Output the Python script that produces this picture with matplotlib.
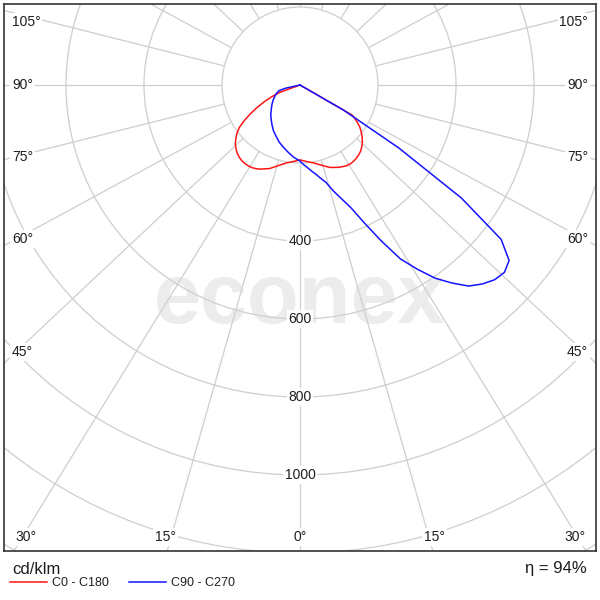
import numpy as np
import matplotlib
matplotlib.use("Agg")
import matplotlib.pyplot as plt
from matplotlib.patches import Circle

plt.rcParams['font.family'] = ['Liberation Sans', 'DejaVu Sans']

# ---------------- data (gamma in degrees, negative = left half) ----------------
c0_c180_gamma = [-90, -75, -70, -67.5, -65, -62.5, -60, -57.5, -55, -52.5, -50, -47.5, -45, -42.5,
                 -40, -37.5, -35, -32.5, -30, -27.5, -25, -20, -15, -10, -5,
                 0, 5, 10, 15, 20, 25, 27.5, 30, 32.5, 35, 37.5, 40, 42.5, 45, 47.5, 50, 52.5,
                 55, 57.5, 60, 65, 90]
c0_c180_cdklm = [0, 0, 55, 78, 100, 123, 146, 169, 190, 204, 215, 225, 232, 238,
                 242, 245, 246, 246, 245, 242, 238, 228, 214, 203, 197,
                 192, 197, 203, 213, 225, 233, 236, 239, 240, 239, 237, 234, 230, 224, 217, 208, 198,
                 187, 172, 155, 0, 0]

c90_c270_gamma = [-90, -80, -77.5, -75, -70, -65, -60, -55, -50, -45, -40, -35, -30, -25, -20, -15,
                  -10, -5, 0, 2.5, 5, 7.5, 10, 12.5, 15, 17.5, 20, 22.5, 25, 27.5, 30, 32.5, 35,
                  37.5, 40, 42.5, 45, 47.5, 50, 52.5, 55, 57.5, 60, 62.5, 90]
c90_c270_cdklm = [0, 0, 38, 55, 65, 72, 80, 88, 96, 106, 115, 125, 136, 145, 156, 165,
                  175, 186, 195, 204, 212, 222, 232, 245, 259, 285, 310, 340, 390, 450, 515, 560, 605,
                  640, 673, 692, 706, 711, 700, 650, 505, 300, 130, 0, 0]

series_labels = ["C0 - C180", "C90 - C270"]
series_colors = ["#ff1414", "#1414ff"]
grid_radii = [200, 400, 600, 800, 1000, 1200, 1400, 1600, 1800, 2000]
radial_ticks = [400, 600, 800, 1000]
ray_angles = list(range(0, 360, 15))
angle_ticks = [0, 15, 30, 45, 60, 75, 90, 105]
unit_label = "cd/klm"
efficiency_label = "η = 94%"
watermark = "econex"

# ---------------- layout ----------------
W = H = 600
px = 1 / 0.39            # cd/klm per pixel
cx, cy = 300, 85         # centre in pixels
left, right, top, bottom = 4, 596, 4, 551
ray_squash = 0.94
grid_col = "#d0d0d0"
txt_col = "#1e1e1e"

fig = plt.figure(figsize=(6, 6), dpi=100)
ax = fig.add_axes([left / W, 1 - bottom / H, (right - left) / W, (bottom - top) / H])
ax.set_xlim((left - cx) * px, (right - cx) * px)
ax.set_ylim(-(bottom - cy) * px, (cy - top) * px)
ax.set_xticks([])
ax.set_yticks([])
for s in ax.spines.values():
    s.set_color("#333333")
    s.set_linewidth(1.2)
    s.set_zorder(10)

# watermark
ax.text(0, -(323 - cy) * px, watermark, ha="center", va="baseline", fontsize=61,
        fontweight="bold", color="#ececec", zorder=0)

# grid circles
for r in grid_radii:
    ax.add_patch(Circle((0, 0), r, fill=False, edgecolor=grid_col, linewidth=0.95, zorder=1))

# rays
for a in ray_angles:
    t = np.radians(a)
    d = np.array([np.sin(t), -ray_squash * np.cos(t)])
    d = d / np.hypot(*d)
    ax.plot([200 * d[0], 4000 * d[0]], [200 * d[1], 4000 * d[1]],
            color=grid_col, linewidth=0.95, zorder=1, solid_capstyle="butt")

# curves
lines = []
for g, v, col, lab, z in [(c0_c180_gamma, c0_c180_cdklm, series_colors[0], series_labels[0], 3),
                          (c90_c270_gamma, c90_c270_cdklm, series_colors[1], series_labels[1], 4)]:
    g = np.radians(np.array(g, dtype=float))
    v = np.array(v, dtype=float)
    ln, = ax.plot(v * np.sin(g), -v * np.cos(g), color=col, linewidth=1.1, label=lab, zorder=z,
                  solid_joinstyle="round")
    lines.append(ln)

# radial labels
bbox = dict(boxstyle="square,pad=0.12", facecolor="white", edgecolor="none")
for r in radial_ticks:
    ax.text(0, -r, str(r), ha="center", va="center", fontsize=10, color=txt_col,
            bbox=bbox, zorder=6)

# angle labels
x_in_left = (left + 8 - cx) * px
x_in_right = (right - 8 - cx) * px
x_probe = (cx - left - 29) * px
y_top_max = (cy - top - 18) * px
y_bot = -(bottom - 14 - cy) * px
for a in angle_ticks:
    t = np.radians(a)
    if a <= 30:
        xr = -y_bot * np.tan(t)
        if a == 0:
            ax.text(0, y_bot, f"{a}°", ha="center", va="center", fontsize=10,
                    color=txt_col, bbox=bbox, zorder=6)
        else:
            ax.text(-xr - 3 * px, y_bot, f"{a}°", ha="right", va="center", fontsize=10,
                    color=txt_col, bbox=bbox, zorder=6)
            ax.text(xr + 3 * px, y_bot, f"{a}°", ha="left", va="center", fontsize=10,
                    color=txt_col, bbox=bbox, zorder=6)
    else:
        y = -x_probe / np.tan(t)
        y = min(y, y_top_max)
        ax.text(x_in_left, y, f"{a}°", ha="left", va="center", fontsize=10,
                color=txt_col, bbox=bbox, zorder=6)
        ax.text(x_in_right, y, f"{a}°", ha="right", va="center", fontsize=10,
                color=txt_col, bbox=bbox, zorder=6)

# texts under the chart
fig.text(12 / W, 1 - 569 / H, unit_label, ha="left", va="center", fontsize=12, color=txt_col)
fig.text(587 / W, 1 - 568 / H, efficiency_label, ha="right", va="center", fontsize=12,
         color=txt_col)
fig.legend(handles=lines, labels=series_labels, loc="center left",
           bbox_to_anchor=(10 / W, 1 - 583 / H), ncol=2, frameon=False, fontsize=9,
           handlelength=2.95, handletextpad=0.4, columnspacing=1.6, borderpad=0,
           borderaxespad=0, labelcolor=txt_col)

fig.savefig("out.png", dpi=100)
